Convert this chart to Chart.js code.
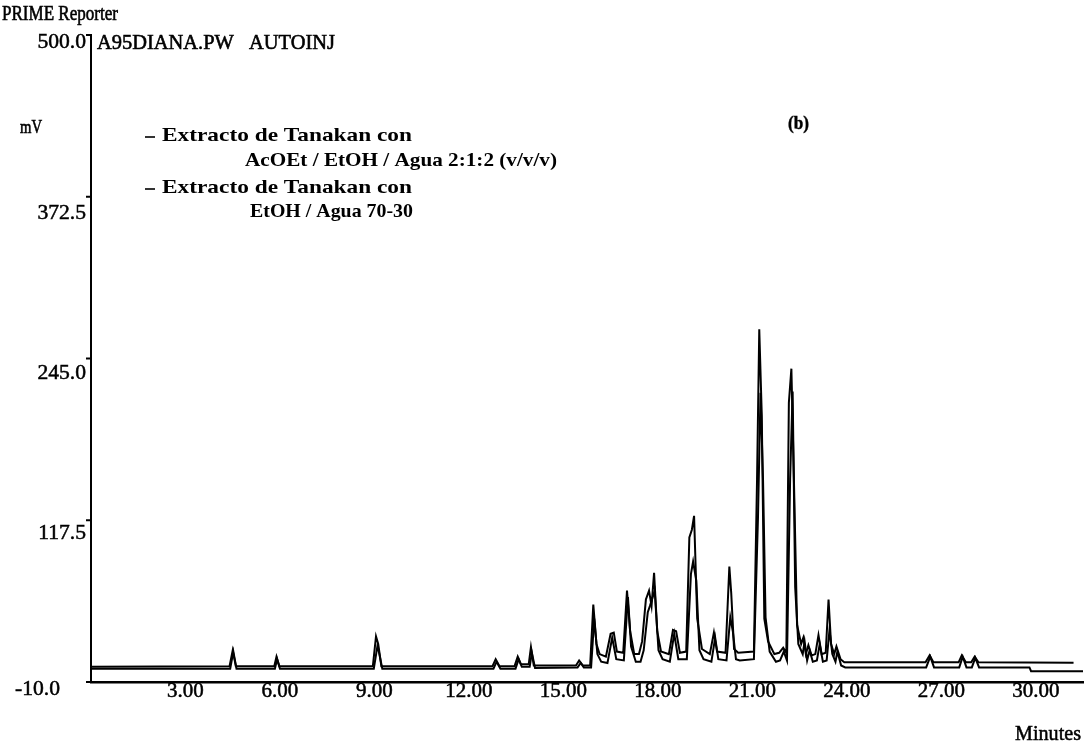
<!DOCTYPE html>
<html lang="es">
<head>
<meta charset="UTF-8">
<title>PRIME Reporter</title>
<script src="https://cdn.jsdelivr.net/npm/chart.js@4.4.1/dist/chart.umd.min.js"></script>
<style>
  body { margin: 0; background: #fff; }
  canvas { display: block; }
</style>
</head>
<body>
<canvas id="myChart" width="1085" height="753"></canvas>

<!-- data -->
<script>
const seriesNames = ['Extracto de Tanakan con AcOEt / EtOH / Agua 2:1:2 (v/v/v)', 'Extracto de Tanakan con EtOH / Agua 70-30'];
const xTicks = [3, 6, 9, 12, 15, 18, 21, 24, 27, 30];
const yTicks = [-10, 117.5, 245, 372.5, 500];

// trace 1 (AcOEt / EtOH / Agua)
const aTime = [0, 4.40, 4.50, 4.60, 5.82, 5.89, 5.98, 8.95, 9.05, 9.12, 9.22, 12.75, 12.85, 12.97,
  13.45, 13.55, 13.65, 13.90, 13.97, 14.06, 15.40, 15.50, 15.62, 15.85, 15.95, 16.05, 16.15, 16.35,
  16.50, 16.60, 16.70, 16.90, 17.02, 17.12, 17.25, 17.40, 17.50, 17.62, 17.72, 17.80, 17.88, 17.98,
  18.10, 18.35, 18.48, 18.58, 18.70, 18.90, 19.00, 19.08, 19.15, 19.25, 19.40, 19.65, 19.78, 19.88,
  20.15, 20.27, 20.33, 20.42, 20.55, 21.05, 21.15, 21.22, 21.30, 21.38, 21.50, 21.70, 21.85, 21.98,
  22.08, 22.16, 22.24, 22.32, 22.42, 22.55, 22.62, 22.70, 22.78, 22.88, 23.00, 23.10, 23.20, 23.33,
  23.42, 23.50, 23.60, 23.67, 23.80, 23.92, 26.50, 26.63, 26.75, 27.55, 27.65, 27.78, 27.95, 28.06,
  28.18, 31.2];
const aMv = [2, 2.5, 15, 2.5, 2.5, 10, 2.5, 2.5, 26, 20, 2.5, 2.5, 8, 2.5,
  2.5, 10, 4, 4, 17.5, 3, 3, 7, 3, 3, 51, 20, 12, 10,
  28, 29, 14, 13, 62, 30, 12, 12, 22, 55, 62, 50, 76, 30,
  14, 12, 31, 30, 13, 14, 104, 110, 121, 40, 16, 12, 29, 14,
  13, 81, 60, 16, 13, 14, 150, 268, 200, 40, 22, 12, 13, 17,
  13, 210, 237, 150, 35, 20, 25, 12, 19, 11, 12, 27, 12, 13,
  55, 20, 12, 18, 8, 5.5, 5.5, 11, 5.5, 5.5, 11, 5.5, 5.5, 10,
  5.5, 5.2];

// trace 2 (EtOH / Agua)
const bTime = [0, 4.42, 4.52, 4.62, 5.84, 5.91, 6.00, 8.98, 9.10, 9.25, 12.78, 12.88, 13.00,
  13.48, 13.58, 13.68, 13.93, 14.00, 14.10, 15.45, 15.55, 15.65, 15.88, 15.98, 16.08, 16.20, 16.40,
  16.55, 16.68, 16.92, 17.05, 17.15, 17.30, 17.45, 17.55, 17.68, 17.75, 17.90, 18.02, 18.15, 18.38,
  18.52, 18.65, 18.92, 19.05, 19.12, 19.22, 19.32, 19.45, 19.70, 19.82, 19.92, 20.18, 20.30, 20.38,
  20.48, 20.60, 21.05, 21.18, 21.26, 21.34, 21.42, 21.55, 21.75, 21.88, 22.00, 22.10, 22.20, 22.28,
  22.36, 22.46, 22.60, 22.66, 22.74, 22.82, 22.92, 23.05, 23.14, 23.24, 23.36, 23.45, 23.54, 23.64,
  23.70, 23.82, 23.95, 26.52, 26.65, 26.77, 27.57, 27.68, 27.80, 27.97, 28.08, 28.20, 29.80, 29.85, 31.5];
const bMv = [0.5, 0.5, 14, 0.5, 0.5, 8, 0.5, 0.5, 19, 0.5, 0.5, 6, 0.5,
  0.5, 8, 2, 2, 13, 1, 1.5, 5, 1.5, 1.5, 40, 12, 6, 5,
  25, 8, 7, 57, 18, 6, 6, 15, 45, 50, 62, 15, 8, 6,
  28, 8, 8, 75, 85, 70, 15, 8, 6, 25, 8, 7, 41, 30,
  8, 7, 8, 120, 218, 149, 41, 14, 6, 7, 14, 7, 150, 219,
  65, 20, 12, 22, 7, 15, 6, 7, 20, 6, 7, 31, 12, 6,
  14, 3, 1.5, 1.5, 10, 1.5, 1.5, 10, 1.5, 1.5, 9, 1.5, 1.5, -1.5, -1.5];
</script>

<script>
  // draws a string stretched to a given width, left edge at x, middle at y
  // a thin stroke on top makes it look like the heavy scanned print
  function fitText(ctx, s, x, y, w, font, heavy) {
    ctx.font = font;
    const m = ctx.measureText(s).width;
    ctx.save();
    ctx.translate(x, y);
    ctx.scale(w / m, 1);
    ctx.textBaseline = 'middle';
    ctx.textAlign = 'left';
    ctx.fillText(s, 0, 0);
    if (heavy) {
      ctx.lineWidth = heavy;
      ctx.strokeText(s, 0, 0);
    }
    ctx.restore();
  }

  const serif = '"Liberation Serif", "Times New Roman", serif';
  const yLabelOff = [8, 13, 15, 17, 8];

  const decor = {
    id: 'decor',
    afterDraw(chart) {
      const ctx = chart.ctx;
      const xs = chart.scales.x, ys = chart.scales.y;
      ctx.save();
      ctx.fillStyle = '#000';
      ctx.strokeStyle = '#000';

      // y tick marks and labels
      yTicks.forEach((v, i) => {
        const py = ys.getPixelForValue(v);
        ctx.lineWidth = 2;
        ctx.beginPath();
        ctx.moveTo(xs.left - 5, py);
        ctx.lineTo(xs.left, py);
        ctx.stroke();
        const label = v.toFixed(1);
        const f = '20px ' + serif;
        ctx.font = f;
        const w = ctx.measureText(label).width * 1.08;
        const right = i === 0 ? 60 : 86;
        fitText(ctx, label, right - w, py + yLabelOff[i], w, f, 0.5);
      });

      // x labels
      xTicks.forEach(t => {
        const px = xs.getPixelForValue(t);
        const label = t.toFixed(2);
        const f = '20px ' + serif;
        ctx.font = f;
        const w = ctx.measureText(label).width * 1.05;
        fitText(ctx, label, px - w / 2, ys.bottom + 10, w, f, 0.5);
      });

      // headings
      fitText(ctx, 'PRIME Reporter', 2, 15, 116, '20px ' + serif, 0.6);
      fitText(ctx, 'A95DIANA.PW   AUTOINJ', 97, 43, 238, '21px ' + serif, 0.6);
      fitText(ctx, 'mV', 20, 128, 22, '19px ' + serif, 0.6);
      fitText(ctx, 'Minutes', 1015, 735, 66, '20px ' + serif, 0.5);
      fitText(ctx, '(b)', 788, 124, 21, 'bold 18px ' + serif, 0.4);

      // legend
      const lg = 'bold 19px ' + serif;
      [[137, 'Extracto de Tanakan con', 'AcOEt / EtOH / Agua 2:1:2 (v/v/v)', 161, 312, 245],
       [189, 'Extracto de Tanakan con', 'EtOH / Agua 70-30', 212, 163, 250]].forEach(r => {
        ctx.lineWidth = 1.6;
        ctx.beginPath();
        ctx.moveTo(145, r[0]);
        ctx.lineTo(155, r[0]);
        ctx.stroke();
        fitText(ctx, r[1], 162, r[0] - 1, 250, lg, 0);
        fitText(ctx, r[2], r[5], r[3], r[4], lg, 0);
      });
      ctx.restore();
    }
  };

  const toPts = (t, v) => t.map((x, i) => ({ x: x, y: v[i] }));

  new Chart(document.getElementById('myChart').getContext('2d'), {
    type: 'line',
    data: {
      datasets: [
        { label: seriesNames[0], data: toPts(aTime, aMv), borderColor: '#000', borderWidth: 2, pointRadius: 0, tension: 0 },
        { label: seriesNames[1], data: toPts(bTime, bMv), borderColor: '#000', borderWidth: 2, pointRadius: 0, tension: 0 }
      ]
    },
    options: {
      responsive: false,
      animation: false,
      devicePixelRatio: 1,
      layout: { padding: { left: 91, top: 35, right: 2, bottom: 71 } },
      plugins: { legend: { display: false }, tooltip: { enabled: false } },
      scales: {
        x: {
          type: 'linear', min: 0, max: 31.5,
          ticks: { display: false },
          grid: { display: false, drawTicks: false },
          border: { display: true, color: '#000', width: 2.5 }
        },
        y: {
          min: -10, max: 500,
          ticks: { display: false },
          grid: { display: false, drawTicks: false },
          border: { display: true, color: '#000', width: 2 }
        }
      }
    },
    plugins: [decor]
  });
</script>
</body>
</html>
